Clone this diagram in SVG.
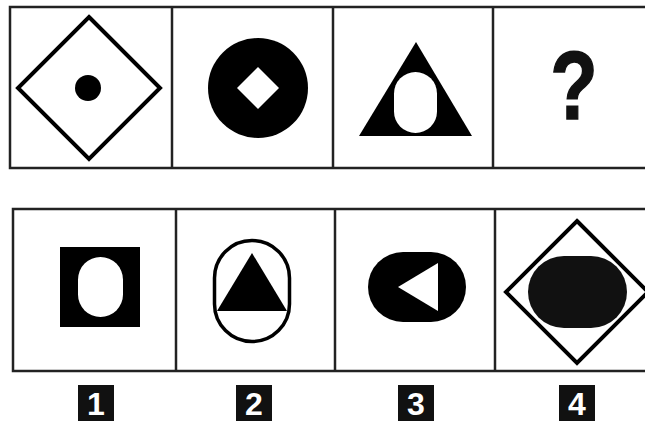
<svg xmlns="http://www.w3.org/2000/svg" width="645" height="424" viewBox="0 0 645 424">
<style>
.frame{fill:none;stroke:#222;stroke-width:2.5}
.out{fill:none;stroke:#000;stroke-width:4}
.blk{fill:#000}
.wht{fill:#fff}
.lab{fill:#111}
.num{fill:#fff;font-family:"Liberation Sans",Arial,sans-serif;font-weight:bold;font-size:32px;text-anchor:middle}
</style>
<rect width="645" height="424" fill="#fff"/>
<g id="frames">
<rect class="frame" x="10" y="7" width="660" height="161"/>
<line class="frame" x1="172" y1="7" x2="172" y2="168"/>
<line class="frame" x1="333" y1="7" x2="333" y2="168"/>
<line class="frame" x1="493" y1="7" x2="493" y2="168"/>
<rect class="frame" x="13" y="209" width="660" height="162"/>
<line class="frame" x1="176" y1="209" x2="176" y2="371"/>
<line class="frame" x1="335" y1="209" x2="335" y2="371"/>
<line class="frame" x1="495" y1="209" x2="495" y2="371"/>
</g>
<g id="q1">
<polygon class="out" points="89,17 160,88 89,159 18,88"/>
<circle class="blk" cx="88" cy="88" r="13"/>
</g>
<g id="q2">
<circle class="blk" cx="258" cy="88" r="50"/>
<polygon class="wht" points="258,67 279,88 258,109 237,88"/>
</g>
<g id="q3">
<polygon class="blk" points="416,42 472,136 359,136"/>
<rect class="wht" x="394" y="72" width="43" height="61" rx="21.5" ry="21.5"/>
</g>
<g id="q4">
<text transform="translate(574,119) scale(0.8,1)" font-family="Liberation Sans, Arial, sans-serif" font-weight="bold" font-size="97" text-anchor="middle" fill="#111" stroke="#111" stroke-width="1.5">?</text>
</g>
<g id="a1">
<rect class="blk" x="60" y="247" width="80" height="80"/>
<rect class="wht" x="78" y="257" width="45" height="60" rx="22.5" ry="22.5"/>
</g>
<g id="a2">
<rect fill="none" stroke="#000" stroke-width="3.5" x="214.5" y="240.5" width="75" height="101" rx="37.5" ry="37.5"/>
<polygon class="blk" points="252,253 287,311 217,311"/>
</g>
<g id="a3">
<rect class="blk" x="368" y="252" width="98" height="70" rx="35" ry="35"/>
<polygon class="wht" points="398,287 438,263 438,311"/>
</g>
<g id="a4">
<polygon class="out" points="577,221 648,292 577,363 506,292"/>
<rect fill="#111" x="528" y="256" width="99" height="72" rx="36" ry="36"/>
</g>
<g id="labels">
<g id="l1"><rect class="lab" x="78" y="385" width="36" height="36"/><text class="num" x="96" y="415">1</text></g>
<g id="l2"><rect class="lab" x="236" y="385" width="36" height="36"/><text class="num" x="254" y="415">2</text></g>
<g id="l3"><rect class="lab" x="398" y="385" width="36" height="36"/><text class="num" x="416" y="415">3</text></g>
<g id="l4"><rect class="lab" x="559" y="385" width="36" height="36"/><text class="num" x="577" y="415">4</text></g>
</g>
</svg>
